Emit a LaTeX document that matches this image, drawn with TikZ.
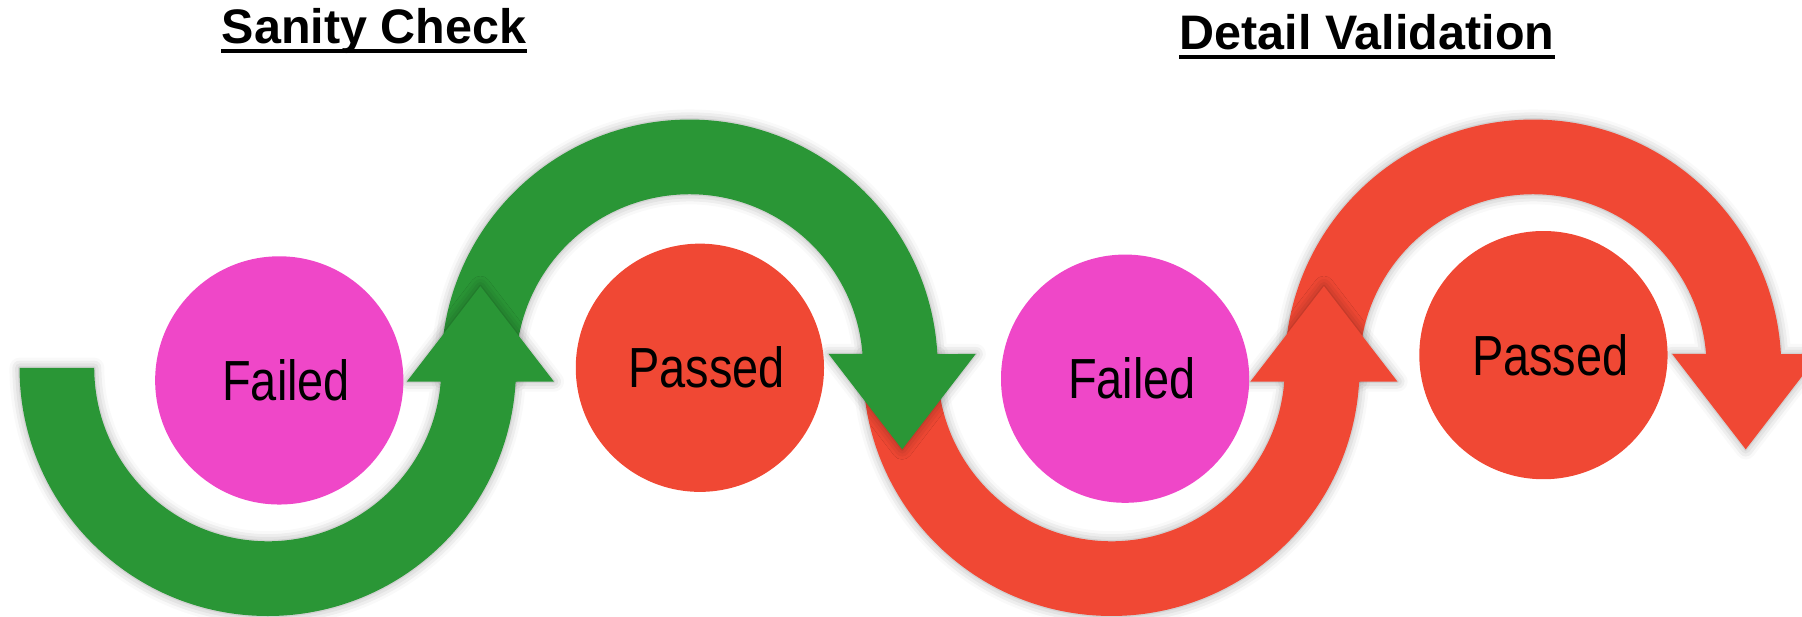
\documentclass[tikz,border=0pt]{standalone}
\usepackage{fontspec}
\setmainfont{Liberation Sans}
\newfontfamily\lblfont[FakeStretch=0.83]{Liberation Sans}
\usetikzlibrary{shadows.blur}
\definecolor{okgreen}{RGB}{42,150,54}
\definecolor{alertred}{RGB}{240,72,52}
\definecolor{failpink}{RGB}{239,71,200}

\begin{document}
\begin{tikzpicture}[x=1cm,y=1cm,band/.style={blur shadow={shadow xshift=0pt,shadow yshift=0pt,shadow blur radius=2.5pt,shadow opacity=35}},state/.style={circle,inner sep=0pt,minimum size=2.16cm,font=\lblfont\fontsize{14}{16}\selectfont},title/.style={inner sep=0pt,anchor=base,font=\bfseries\fontsize{12}{14}\selectfont}]
\useasboundingbox (0,0) rectangle (15.68,5.36);

% bands, back to front
\fill[band,alertred] (11.183,2.04) arc[start angle=183.18,end angle=3.18,radius=2.16] -- (15.83,2.28) -- (15.19,1.45) -- (14.55,2.28) -- (14.845,2.28) arc[start angle=4.56,end angle=184.56,radius=1.51] -- cycle;
\fill[band,alertred] (7.513,2.28) arc[start angle=176.82,end angle=356.82,radius=2.16] -- (12.16,2.04) -- (11.52,2.87) -- (10.88,2.04) -- (11.175,2.04) arc[start angle=355.44,end angle=175.44,radius=1.51] -- cycle;
\fill[band,okgreen] (3.843,2.04) arc[start angle=183.18,end angle=3.18,radius=2.16] -- (8.49,2.28) -- (7.85,1.45) -- (7.21,2.28) -- (7.505,2.28) arc[start angle=4.56,end angle=184.56,radius=1.51] -- cycle;
\fill[band,okgreen] (0.17,2.16) arc[start angle=180,end angle=356.82,radius=2.16] -- (4.82,2.04) -- (4.18,2.87) -- (3.54,2.04) -- (3.835,2.04) arc[start angle=355.44,end angle=180,radius=1.51] -- cycle;

\node[state,fill=failpink] (fail1) at (2.43,2.05) {\hspace{0.12cm}Failed};
\node[state,fill=alertred] (pass1) at (6.09,2.16) {\hspace{0.12cm}Passed};
\node[state,fill=failpink] (fail2) at (9.79,2.065) {\hspace{0.12cm}Failed};
\node[state,fill=alertred] (pass2) at (13.43,2.27) {\hspace{0.12cm}Passed};

\node[title] (sanity) at (3.255,4.98) {Sanity Check};
\node[title] (detail) at (11.895,4.93) {Detail Validation};
\draw[line width=0.9pt] ([yshift=-1.8pt]sanity.base west) -- ([yshift=-1.8pt]sanity.base east);
\draw[line width=0.9pt] ([yshift=-1.8pt]detail.base west) -- ([yshift=-1.8pt]detail.base east);
\end{tikzpicture}
\end{document}
